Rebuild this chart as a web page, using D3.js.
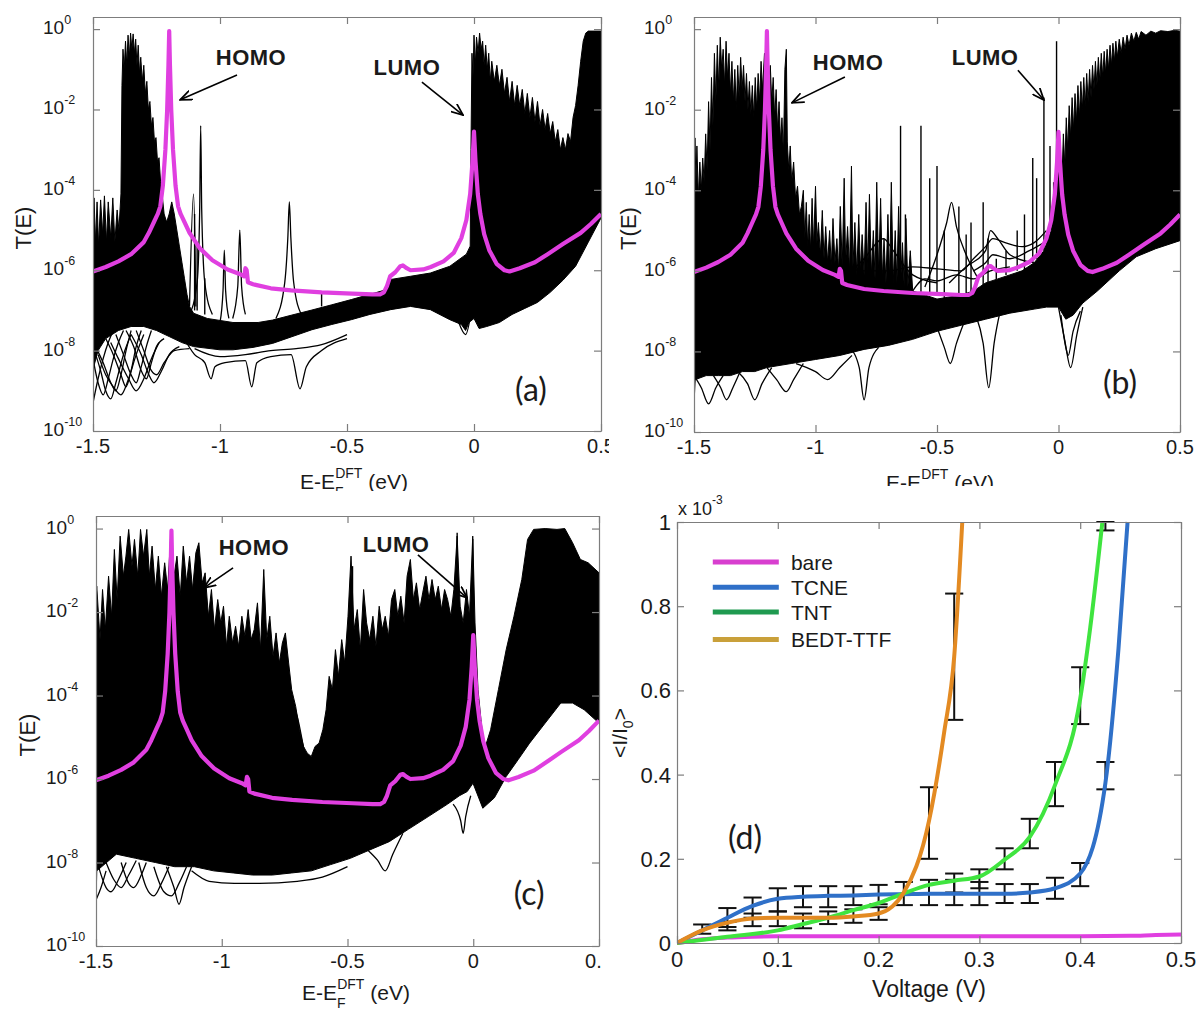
<!DOCTYPE html>
<html><head><meta charset="utf-8">
<script src="https://cdn.jsdelivr.net/npm/d3@7"></script>
<style>body{margin:0;background:#fff}svg{display:block}</style>
</head><body>
<svg id="fig" width="1201" height="1014"></svg>
<script>
// ---------------- DATA ----------------
const eTicks = [-1.5, -1, -0.5, 0, 0.5];
const tExponents = [0, -2, -4, -6, -8, -10];

// bare molecule transmission (magenta), [E, log10 T]
const bareCurve = [[-1.5,-6.03],[-1.45,-5.92],[-1.4,-5.78],[-1.35,-5.6],[-1.3,-5.3],[-1.28,-5.07],[-1.26,-4.8],[-1.245,-4.6],[-1.235,-4.41],[-1.225,-3.9],[-1.215,-3.0],[-1.208,-2.0],[-1.203,-0.9],[-1.2,-0.05],[-1.197,-0.9],[-1.192,-2.0],[-1.185,-3.0],[-1.175,-3.9],[-1.165,-4.41],[-1.155,-4.6],[-1.14,-4.8],[-1.12,-5.07],[-1.08,-5.45],[-1.03,-5.75],[-0.97,-5.98],[-0.92,-6.1],[-0.905,-6.15],[-0.9,-5.95],[-0.895,-6.0],[-0.89,-6.3],[-0.87,-6.35],[-0.8,-6.45],[-0.72,-6.5],[-0.6,-6.55],[-0.48,-6.58],[-0.4,-6.6],[-0.37,-6.6],[-0.355,-6.55],[-0.343,-6.4],[-0.33,-6.15],[-0.31,-6.05],[-0.29,-5.9],[-0.28,-5.88],[-0.265,-5.95],[-0.25,-6.0],[-0.2,-5.98],[-0.17,-5.92],[-0.12,-5.78],[-0.08,-5.57],[-0.05,-5.2],[-0.03,-4.75],[-0.015,-4.1],[-0.006,-3.3],[0.0,-2.55],[0.006,-3.3],[0.015,-4.1],[0.025,-4.6],[0.04,-5.1],[0.06,-5.5],[0.09,-5.85],[0.12,-6.0],[0.14,-6.03],[0.18,-5.95],[0.24,-5.8],[0.29,-5.6],[0.35,-5.35],[0.42,-5.07],[0.46,-4.85],[0.5,-4.6]];

// ---- panel (a)
const aTop = [[-1.5,-5.0],[-1.496,-4.2],[-1.49,-5.3],[-1.484,-4.3],[-1.478,-5.4],[-1.47,-4.25],[-1.462,-5.1],[-1.455,-4.15],[-1.447,-5.3],[-1.44,-4.3],[-1.43,-5.2],[-1.422,-4.2],[-1.414,-5.3],[-1.405,-4.5],[-1.398,-5.0],[-1.39,-4.1],[-1.386,-1.4],[-1.382,-0.5],[-1.377,-1.0],[-1.372,-0.3],[-1.367,-0.9],[-1.362,-0.15],[-1.357,-0.7],[-1.352,-0.1],[-1.347,-0.5],[-1.342,-0.12],[-1.337,-0.6],[-1.332,-0.25],[-1.327,-0.9],[-1.322,-0.4],[-1.317,-1.1],[-1.312,-0.7],[-1.306,-1.3],[-1.3,-0.9],[-1.294,-1.6],[-1.288,-1.3],[-1.282,-2.0],[-1.276,-1.8],[-1.27,-2.4],[-1.264,-2.2],[-1.258,-2.8],[-1.252,-2.7],[-1.246,-3.3],[-1.24,-3.2],[-1.234,-3.8],[-1.228,-4.1],[-1.22,-4.6],[-1.21,-4.8],[-1.2,-4.6],[-1.19,-4.3],[-1.18,-4.6],[-1.17,-5.0],[-1.16,-5.4],[-1.15,-5.8],[-1.14,-6.2],[-1.13,-6.6],[-1.12,-6.9],[-1.104,-7.07],[-1.05,-7.2],[-0.949,-7.3],[-0.85,-7.3],[-0.793,-7.24],[-0.72,-7.12],[-0.638,-6.99],[-0.56,-6.86],[-0.483,-6.73],[-0.41,-6.6],[-0.343,-6.48],[-0.335,-6.3],[-0.328,-6.23],[-0.25,-6.15],[-0.172,-6.07],[-0.095,-5.9],[-0.03,-5.6],[-0.015,-5.4],[-0.012,-3.0],[-0.008,-0.6],[-0.004,-1.2],[0.0,-0.15],[0.005,-0.9],[0.01,-0.2],[0.016,-0.6],[0.022,-0.1],[0.028,-0.5],[0.034,-0.3],[0.04,-0.9],[0.046,-0.4],[0.052,-1.0],[0.058,-0.6],[0.064,-1.3],[0.07,-0.8],[0.08,-1.3],[0.09,-0.9],[0.1,-1.4],[0.11,-1.0],[0.12,-1.6],[0.13,-1.2],[0.14,-1.8],[0.15,-1.3],[0.16,-1.9],[0.17,-1.4],[0.18,-1.9],[0.19,-1.5],[0.2,-2.1],[0.21,-1.6],[0.22,-2.2],[0.23,-1.7],[0.24,-2.3],[0.25,-1.8],[0.26,-2.4],[0.27,-2.0],[0.28,-2.5],[0.29,-2.1],[0.3,-2.6],[0.31,-2.3],[0.32,-2.8],[0.33,-2.5],[0.34,-3.0],[0.35,-2.7],[0.36,-3.0],[0.37,-2.6],[0.38,-2.8],[0.39,-2.2],[0.4,-1.9],[0.41,-1.4],[0.42,-0.8],[0.43,-0.3],[0.44,-0.1],[0.45,-0.05],[0.5,-0.05]];
const aBottom = [[-1.5,-9.3],[-1.497,-8.4],[-1.48,-8.0],[-1.45,-7.7],[-1.4,-7.5],[-1.35,-7.4],[-1.3,-7.4],[-1.25,-7.5],[-1.2,-7.65],[-1.15,-7.8],[-1.104,-7.9],[-1.0,-7.98],[-0.949,-7.98],[-0.87,-7.92],[-0.793,-7.82],[-0.72,-7.66],[-0.638,-7.48],[-0.56,-7.35],[-0.483,-7.23],[-0.41,-7.1],[-0.328,-6.98],[-0.25,-6.9],[-0.172,-6.98],[-0.095,-7.23],[-0.05,-7.35],[-0.033,-7.5],[-0.02,-7.3],[0.0,-7.2],[0.02,-7.45],[0.05,-7.4],[0.1,-7.3],[0.15,-7.1],[0.2,-6.95],[0.25,-6.8],[0.3,-6.55],[0.35,-6.25],[0.4,-5.9],[0.45,-5.3],[0.5,-4.7]];
const aSpikes = [[-1.1,-7.0,-4.6],[-1.09,-7.0,-5.4],[-1.06,-7.1,-6.2],[-0.6,-6.9,-6.55],[0.385,-5.8,-4.5],[0.395,-5.7,-4.2],[0.41,-5.5,-4.8]];
const aTraces = [
  [[-1.5,-9.3],[-1.48,-8.7],[-1.46,-8.2],[-1.44,-7.8],[-1.42,-7.5]],
  [[-1.5,-8.2],[-1.48,-8.8],[-1.46,-9.1],[-1.44,-8.7],[-1.42,-8.2],[-1.4,-7.8],[-1.38,-7.5]],
  [[-1.49,-7.9],[-1.46,-8.3],[-1.43,-8.8],[-1.41,-9.0],[-1.39,-8.6],[-1.37,-8.0],[-1.35,-7.5]],
  [[-1.45,-7.7],[-1.42,-8.1],[-1.39,-8.6],[-1.37,-8.9],[-1.35,-8.5],[-1.33,-7.9],[-1.31,-7.5]],
  [[-1.41,-7.6],[-1.38,-8.1],[-1.35,-8.6],[-1.33,-8.8],[-1.31,-8.4],[-1.29,-7.9],[-1.27,-7.5]],
  [[-1.37,-7.5],[-1.34,-7.9],[-1.31,-8.5],[-1.29,-8.7],[-1.27,-8.3],[-1.25,-7.9],[-1.22,-7.7]],
  [[-1.33,-7.5],[-1.3,-8.0],[-1.27,-8.5],[-1.25,-8.6],[-1.22,-8.3],[-1.18,-8.0],[-1.12,-7.95]],
  [[-1.5,-7.9],[-1.47,-8.5],[-1.45,-9.0],[-1.43,-9.2],[-1.41,-8.8],[-1.38,-8.1],[-1.35,-7.6]],
  [[-1.48,-8.1],[-1.45,-8.6],[-1.42,-8.9],[-1.39,-9.1],[-1.36,-8.7],[-1.33,-8.1],[-1.3,-7.6]],
  [[-1.43,-7.8],[-1.4,-8.2],[-1.36,-8.7],[-1.33,-9.0],[-1.3,-8.7],[-1.27,-8.2],[-1.24,-7.8]],
  [[-1.35,-7.6],[-1.31,-8.1],[-1.28,-8.6],[-1.26,-8.8],[-1.23,-8.5],[-1.2,-8.1],[-1.16,-7.9]],
  [[-1.12,-7.1],[-1.09,-6.3],[-1.08,-4.5],[-1.076,-2.4],[-1.072,-4.5],[-1.06,-6.3],[-1.03,-7.1]],
  [[-0.78,-7.2],[-0.745,-6.3],[-0.733,-5.2],[-0.727,-4.3],[-0.721,-5.2],[-0.71,-6.3],[-0.68,-7.1]],
  [[-0.95,-7.2],[-0.93,-6.4],[-0.922,-5.0],[-0.915,-6.4],[-0.9,-7.1]],
  [[-1.0,-7.3],[-0.988,-6.5],[-0.983,-5.5],[-0.978,-6.5],[-0.965,-7.2]],
  [[-1.12,-6.9],[-1.104,-4.1],[-1.095,-6.9]],
  [[-1.15,-7.6],[-1.1,-8.1],[-1.06,-8.3],[-1.035,-8.7],[-1.02,-8.4],[-0.98,-8.3],[-0.9,-8.25],[-0.875,-8.9],[-0.855,-8.3],[-0.8,-8.15],[-0.72,-8.1],[-0.685,-8.95],[-0.66,-8.4],[-0.6,-8.0],[-0.5,-7.7]],
  [[-1.1,-7.95],[-1.0,-8.15],[-0.9,-8.1],[-0.8,-8.0],[-0.7,-7.95],[-0.6,-7.85],[-0.5,-7.6]],
  [[-0.06,-7.3],[-0.033,-7.6],[-0.01,-7.0]]
];

// ---- panel (b)
const bTop = [[-1.5,-4.0],[-1.496,-2.7],[-1.492,-3.8],[-1.488,-2.9],[-1.482,-4.2],[-1.476,-3.3],[-1.47,-4.0],[-1.464,-3.2],[-1.458,-3.8],[-1.452,-2.6],[-1.446,-3.5],[-1.44,-1.8],[-1.434,-3.0],[-1.428,-1.2],[-1.422,-2.4],[-1.416,-0.6],[-1.41,-1.8],[-1.404,-0.4],[-1.398,-1.5],[-1.392,-0.2],[-1.386,-1.0],[-1.38,-0.5],[-1.374,-1.4],[-1.368,-0.3],[-1.362,-1.2],[-1.356,-0.6],[-1.35,-1.6],[-1.344,-0.8],[-1.338,-1.8],[-1.332,-1.0],[-1.326,-2.0],[-1.32,-0.9],[-1.314,-1.7],[-1.308,-0.7],[-1.302,-1.5],[-1.296,-0.9],[-1.29,-1.8],[-1.284,-1.1],[-1.278,-2.0],[-1.272,-1.3],[-1.266,-2.1],[-1.26,-1.4],[-1.254,-2.2],[-1.248,-1.2],[-1.242,-2.0],[-1.236,-1.1],[-1.23,-1.8],[-1.224,-0.8],[-1.218,-1.5],[-1.21,-0.6],[-1.2,-0.8],[-1.192,-1.4],[-1.186,-0.9],[-1.18,-1.8],[-1.174,-1.2],[-1.168,-2.2],[-1.162,-1.5],[-1.156,-2.5],[-1.15,-1.8],[-1.144,-2.8],[-1.138,-2.2],[-1.132,-3.1],[-1.126,-1.0],[-1.12,-0.5],[-1.116,-2.8],[-1.11,-3.5],[-1.104,-2.9],[-1.098,-3.8],[-1.09,-3.3],[-1.082,-4.2],[-1.074,-3.9],[-1.066,-4.6],[-1.058,-4.4],[-1.05,-4.0],[-1.044,-5.2],[-1.038,-4.3],[-1.032,-5.4],[-1.026,-4.6],[-1.02,-5.5],[-1.014,-4.2],[-1.008,-5.4],[-1.0,-3.9],[-0.994,-5.3],[-0.988,-4.8],[-0.98,-5.6],[-0.972,-4.5],[-0.965,-5.7],[-0.958,-4.9],[-0.95,-5.8],[-0.942,-5.0],[-0.935,-5.9],[-0.928,-4.7],[-0.92,-5.8],[-0.912,-5.2],[-0.905,-6.0],[-0.898,-4.4],[-0.89,-5.9],[-0.882,-3.7],[-0.876,-5.8],[-0.868,-4.9],[-0.86,-6.0],[-0.852,-3.4],[-0.846,-5.9],[-0.838,-4.8],[-0.83,-6.1],[-0.822,-4.6],[-0.815,-6.0],[-0.808,-5.1],[-0.8,-6.1],[-0.792,-4.3],[-0.785,-6.0],[-0.778,-4.1],[-0.77,-6.1],[-0.762,-5.0],[-0.755,-6.2],[-0.748,-3.8],[-0.74,-6.1],[-0.732,-4.2],[-0.725,-6.2],[-0.718,-5.2],[-0.71,-6.3],[-0.702,-4.6],[-0.695,-6.2],[-0.688,-3.8],[-0.68,-6.3],[-0.672,-5.0],[-0.665,-6.3],[-0.658,-4.4],[-0.65,-6.3],[-0.642,-5.3],[-0.635,-6.4],[-0.628,-4.7],[-0.62,-6.4],[-0.61,-5.5],[-0.6,-6.5],[-0.5,-6.7],[-0.4,-6.6],[-0.35,-6.5],[-0.3,-6.3],[-0.25,-6.2],[-0.2,-6.1],[-0.15,-6.0],[-0.1,-5.8],[-0.06,-5.5],[-0.03,-5.0],[-0.01,-4.2],[0.0,-2.9],[0.008,-4.4],[0.015,-3.6],[0.02,-2.6],[0.026,-3.4],[0.032,-2.2],[0.038,-3.0],[0.044,-1.9],[0.05,-2.7],[0.056,-1.7],[0.062,-2.5],[0.068,-1.6],[0.074,-2.3],[0.08,-1.4],[0.086,-2.2],[0.092,-1.3],[0.098,-2.0],[0.104,-1.2],[0.11,-1.9],[0.116,-1.1],[0.122,-1.8],[0.128,-1.0],[0.134,-1.7],[0.14,-0.9],[0.146,-1.5],[0.152,-0.8],[0.158,-1.4],[0.164,-0.7],[0.17,-1.3],[0.176,-0.6],[0.182,-1.2],[0.188,-0.55],[0.194,-1.1],[0.2,-0.5],[0.206,-1.0],[0.212,-0.4],[0.218,-0.9],[0.224,-0.35],[0.23,-0.8],[0.236,-0.3],[0.242,-0.7],[0.25,-0.25],[0.258,-0.6],[0.266,-0.2],[0.274,-0.5],[0.282,-0.15],[0.29,-0.4],[0.3,-0.1],[0.31,-0.3],[0.32,-0.08],[0.33,-0.25],[0.34,-0.06],[0.36,-0.15],[0.38,-0.05],[0.4,-0.1],[0.42,-0.04],[0.45,-0.06],[0.48,-0.03],[0.5,-0.05]];
const bBottom = [[-1.5,-9.3],[-1.495,-8.7],[-1.45,-8.6],[-1.4,-8.6],[-1.35,-8.6],[-1.3,-8.5],[-1.25,-8.5],[-1.2,-8.4],[-1.15,-8.35],[-1.1,-8.3],[-1.0,-8.2],[-0.9,-8.1],[-0.8,-7.95],[-0.7,-7.85],[-0.6,-7.7],[-0.5,-7.5],[-0.4,-7.35],[-0.3,-7.2],[-0.2,-7.05],[-0.1,-6.95],[-0.05,-6.9],[0.0,-6.9],[0.03,-7.2],[0.06,-7.1],[0.1,-6.8],[0.16,-6.5],[0.25,-6.0],[0.32,-5.65],[0.4,-5.45],[0.5,-5.25]];
const bSpikes = [[-0.65,-6.5,-2.4],[-0.63,-6.5,-4.6],[-0.566,-6.6,-2.4],[-0.53,-6.6,-3.7],[-0.5,-6.6,-3.4],[-0.47,-6.7,-5.0],[-0.41,-6.6,-4.4],[-0.38,-6.6,-5.1],[-0.36,-6.5,-4.8],[-0.31,-6.4,-4.3],[-0.29,-6.4,-5.2],[-0.256,-6.2,-5.7],[-0.216,-6.1,-5.5],[-0.17,-6.0,-5.0],[-0.14,-6.0,-4.6],[-0.106,-5.8,-3.2],[-0.09,-5.7,-3.7],[-0.06,-5.5,-1.7],[-0.035,-5.0,-2.9],[-0.02,-4.8,-3.8],[-0.008,-4.5,-0.3]];
const bTraces = [
  [[-0.86,-7.9],[-0.82,-8.4],[-0.8,-9.2],[-0.78,-8.4],[-0.74,-7.9]],
  [[-0.5,-7.4],[-0.47,-7.9],[-0.445,-8.3],[-0.42,-7.8],[-0.39,-7.3]],
  [[-0.34,-7.1],[-0.31,-7.8],[-0.287,-8.9],[-0.265,-7.8],[-0.24,-7.0]],
  [[0.0,-6.9],[0.025,-7.7],[0.05,-8.4],[0.075,-7.6],[0.1,-6.9]],
  [[0.01,-7.1],[0.03,-7.9],[0.04,-8.1],[0.06,-7.5],[0.09,-7.0]],
  [[-1.5,-8.6],[-1.47,-8.9],[-1.44,-9.3],[-1.41,-8.9],[-1.38,-8.6]],
  [[-1.42,-8.6],[-1.39,-8.9],[-1.366,-9.2],[-1.34,-8.9],[-1.31,-8.5]],
  [[-1.32,-8.5],[-1.28,-8.8],[-1.25,-9.2],[-1.22,-8.8],[-1.18,-8.4]],
  [[-1.2,-8.4],[-1.16,-8.7],[-1.12,-9.0],[-1.09,-8.7],[-1.05,-8.3]],
  [[-1.08,-8.3],[-1.0,-8.5],[-0.95,-8.7],[-0.9,-8.4],[-0.85,-8.1]],
  [[-1.0,-5.8],[-0.9,-5.9],[-0.8,-6.0],[-0.7,-6.0],[-0.6,-5.9],[-0.5,-5.95],[-0.4,-6.0],[-0.35,-5.7],[-0.3,-5.4],[-0.27,-5.2],[-0.22,-5.3],[-0.15,-5.4],[-0.1,-5.3],[-0.05,-5.0]],
  [[-0.55,-6.4],[-0.5,-5.6],[-0.46,-4.8],[-0.44,-4.3],[-0.42,-4.9],[-0.38,-5.6],[-0.33,-6.2]],
  [[-0.9,-6.3],[-0.8,-5.7],[-0.72,-5.2],[-0.68,-5.5],[-0.6,-6.1],[-0.5,-6.3]],
  [[-0.45,-6.3],[-0.38,-5.9],[-0.3,-5.5],[-0.28,-5.0],[-0.25,-5.2],[-0.2,-5.6],[-0.1,-5.8]],
  [[-0.35,-6.0],[-0.3,-5.8],[-0.27,-5.6],[-0.2,-5.7],[-0.12,-5.5],[-0.06,-5.3]],
  [[-0.6,-6.5],[-0.55,-6.2],[-0.5,-6.25],[-0.42,-6.1],[-0.35,-6.2],[-0.28,-6.0],[-0.2,-5.9]]
];

// ---- panel (c)
const cTop = [[-1.5,-1.6],[-1.497,-1.38],[-1.484,-2.66],[-1.474,-1.46],[-1.463,-2.42],[-1.45,-1.14],[-1.438,-2.1],[-1.427,-0.5],[-1.416,-1.7],[-1.404,-0.18],[-1.391,-1.14],[-1.381,-0.66],[-1.37,-0.02],[-1.357,-0.9],[-1.347,-0.26],[-1.334,-1.14],[-1.323,-0.02],[-1.311,-0.66],[-1.298,-0.02],[-1.288,-1.14],[-1.277,-0.42],[-1.264,-1.46],[-1.252,-0.66],[-1.24,-1.62],[-1.227,-0.82],[-1.215,-1.46],[-1.202,-0.05],[-1.19,-1.14],[-1.178,-0.66],[-1.165,-1.62],[-1.153,-0.42],[-1.14,-1.3],[-1.128,-0.66],[-1.116,-1.46],[-1.103,-0.58],[-1.091,-0.34],[-1.078,-1.3],[-1.066,-1.06],[-1.053,-2.1],[-1.041,-1.46],[-1.029,-2.42],[-1.016,-1.7],[-1.004,-2.26],[-0.993,-1.86],[-0.981,-2.82],[-0.97,-2.1],[-0.957,-2.74],[-0.945,-2.34],[-0.933,-2.82],[-0.92,-2.1],[-0.908,-2.58],[-0.895,-1.94],[-0.883,-2.66],[-0.871,-2.42],[-0.858,-1.78],[-0.846,-2.9],[-0.833,-0.98],[-0.821,-2.66],[-0.809,-2.1],[-0.796,-3.06],[-0.784,-2.5],[-0.771,-3.22],[-0.759,-2.74],[-0.747,-2.5],[-0.734,-3.22],[-0.722,-3.86],[-0.706,-4.26],[-0.691,-4.82],[-0.675,-5.22],[-0.66,-5.38],[-0.644,-5.46],[-0.629,-5.22],[-0.613,-5.14],[-0.598,-4.82],[-0.585,-4.34],[-0.573,-3.54],[-0.56,-3.86],[-0.548,-2.9],[-0.536,-3.54],[-0.523,-2.66],[-0.511,-3.22],[-0.498,-2.1],[-0.486,-0.66],[-0.474,-2.42],[-0.461,-1.94],[-0.449,-2.9],[-0.436,-1.46],[-0.424,-2.26],[-0.412,-2.66],[-0.399,-2.1],[-0.387,-2.82],[-0.374,-1.86],[-0.362,-2.42],[-0.35,-2.1],[-0.337,-2.58],[-0.325,-1.7],[-0.312,-1.46],[-0.3,-2.1],[-0.288,-1.62],[-0.275,-2.26],[-0.263,-1.14],[-0.25,-0.74],[-0.238,-1.7],[-0.226,-1.3],[-0.213,-1.94],[-0.201,-1.54],[-0.188,-1.14],[-0.176,-1.7],[-0.164,-1.22],[-0.151,-1.7],[-0.139,-1.38],[-0.126,-1.94],[-0.114,-1.46],[-0.102,-1.7],[-0.089,-2.1],[-0.077,-1.46],[-0.064,-0.18],[-0.052,-1.86],[-0.04,-2.26],[-0.027,-1.46],[-0.015,-2.1],[-0.002,-0.18],[0.007,-2.26],[0.019,-3.86],[0.032,-4.66],[0.044,-5.3],[0.069,-4.82],[0.1,-3.86],[0.131,-2.9],[0.162,-2.1],[0.193,-1.22],[0.216,-0.26],[0.24,-0.02],[0.286,0],[0.333,-0.02],[0.364,0],[0.395,-0.34],[0.426,-0.74],[0.457,-0.82],[0.5,-1.06]];
const cBottom = [[-1.5,-9.0],[-1.497,-8.2],[-1.419,-7.8],[-1.342,-7.9],[-1.264,-8.0],[-1.187,-8.1],[-1.109,-8.1],[-1.032,-8.2],[-0.954,-8.25],[-0.877,-8.3],[-0.799,-8.3],[-0.722,-8.25],[-0.644,-8.2],[-0.567,-8.05],[-0.489,-7.9],[-0.412,-7.7],[-0.334,-7.5],[-0.257,-7.2],[-0.179,-6.9],[-0.102,-6.6],[-0.055,-6.4],[-0.024,-6.3],[-0.001,-6.1],[0.038,-6.7],[0.084,-6.45],[0.131,-5.94],[0.178,-5.54],[0.224,-5.14],[0.286,-4.66],[0.348,-4.18],[0.395,-4.18],[0.441,-4.34],[0.5,-4.66]];
const cSpikes = [[-0.48,-3.0,-0.9],[-0.064,-2.5,-0.1],[-0.002,-3.0,-0.25]];
const cTraces = [
  [[-1.5,-8.9],[-1.48,-8.6],[-1.46,-8.2]],
  [[-1.49,-8.1],[-1.46,-8.6],[-1.44,-8.7],[-1.41,-8.4],[-1.38,-8.0]],
  [[-1.4,-8.0],[-1.37,-8.5],[-1.35,-8.6],[-1.32,-8.3],[-1.3,-8.0]],
  [[-1.33,-8.0],[-1.3,-8.6],[-1.27,-8.8],[-1.24,-8.5],[-1.21,-8.1]],
  [[-1.27,-8.1],[-1.23,-8.7],[-1.2,-8.8],[-1.17,-8.5],[-1.14,-8.1]],
  [[-1.22,-8.1],[-1.19,-8.6],[-1.17,-9.0],[-1.15,-8.6],[-1.12,-8.1]],
  [[-1.46,-8.0],[-1.43,-8.4],[-1.4,-8.6],[-1.37,-8.3],[-1.34,-7.95]],
  [[-1.12,-8.2],[-1.05,-8.45],[-0.95,-8.5],[-0.85,-8.5],[-0.7,-8.45],[-0.6,-8.35],[-0.5,-8.1]],
  [[-0.42,-7.7],[-0.38,-7.95],[-0.35,-8.2],[-0.32,-7.8],[-0.28,-7.3]],
  [[-0.08,-6.6],[-0.05,-7.0],[-0.04,-7.3],[-0.03,-6.9],[-0.01,-6.4]],
  [[-0.75,-3.5],[-0.7,-4.5],[-0.65,-5.7],[-0.6,-5.0],[-0.55,-3.8]],
  [[-0.74,-4.0],[-0.68,-5.2],[-0.63,-6.0],[-0.58,-5.2],[-0.54,-4.2]]
];

// annotations [HOMO text], [arrow from,to], [LUMO text], [arrow from,to], panel letter (data coordinates)
const aNotes = [[-0.878,-0.89],[[-0.933,-1.14],[-1.157,-1.76]],[-0.264,-1.14],[[-0.205,-1.32],[-0.043,-2.14]],[0.224,-8.98]];
const bNotes = [[-0.866,-1.02],[[-0.879,-1.19],[-1.097,-1.83]],[-0.302,-0.89],[[-0.167,-1.02],[-0.06,-1.76]],[0.253,-8.78]];
const cNotes = [[-0.872,-0.63],[[-0.955,-0.94],[-1.071,-1.42]],[-0.307,-0.56],[[-0.22,-0.63],[-0.025,-1.66]],[0.222,-8.76]];

// ---- panel (d)
const vTicks = [0, 0.1, 0.2, 0.3, 0.4, 0.5];
const iTicks = [0, 0.2, 0.4, 0.6, 0.8, 1];
const seriesNames = ["bare", "TCNE", "TNT", "BEDT-TTF"];
const lineColors = ["#e03fe0", "#2f70c8", "#3fe43f", "#e38a22"];
const legendColors = ["#d83fcf", "#2f70c8", "#1f9a50", "#c9a03a"];
const bareV = [0, 0.025, 0.05, 0.075, 0.1, 0.15, 0.2, 0.25, 0.3, 0.35, 0.4, 0.45, 0.475, 0.5];
const bareI = [0, 0.009, 0.013, 0.015, 0.016, 0.016, 0.016, 0.016, 0.016, 0.016, 0.016, 0.017, 0.019, 0.02];
const tcneV = [0, 0.025, 0.05, 0.075, 0.1, 0.125, 0.15, 0.175, 0.2, 0.225, 0.25, 0.275, 0.3, 0.325, 0.35, 0.375, 0.4, 0.425, 0.438, 0.447];
const tcneI = [0, 0.03, 0.06, 0.088, 0.105, 0.11, 0.112, 0.113, 0.115, 0.116, 0.117, 0.117, 0.117, 0.117, 0.12, 0.13, 0.165, 0.38, 0.7, 1.0];
const tntV = [0, 0.05, 0.1, 0.125, 0.15, 0.175, 0.2, 0.225, 0.25, 0.275, 0.3, 0.325, 0.35, 0.375, 0.4, 0.41, 0.422];
const tntI = [0, 0.015, 0.03, 0.045, 0.06, 0.078, 0.095, 0.118, 0.138, 0.148, 0.158, 0.198, 0.252, 0.375, 0.58, 0.75, 1.0];
const bedtV = [0, 0.025, 0.05, 0.075, 0.1, 0.125, 0.15, 0.175, 0.2, 0.225, 0.25, 0.265, 0.275, 0.283];
const bedtI = [0, 0.03, 0.048, 0.058, 0.06, 0.06, 0.06, 0.063, 0.07, 0.12, 0.29, 0.5, 0.68, 1.0];
const errorBars = [[0.025,0.022,0.044],[0.05,0.038,0.083],[0.05,0.03,0.05],[0.075,0.06,0.108],[0.075,0.04,0.07],[0.1,0.075,0.13],[0.1,0.04,0.075],[0.125,0.085,0.135],[0.125,0.035,0.07],[0.15,0.085,0.135],[0.15,0.045,0.075],[0.175,0.09,0.135],[0.175,0.048,0.08],[0.2,0.092,0.138],[0.2,0.055,0.085],[0.225,0.09,0.145],[0.25,0.09,0.15],[0.25,0.2,0.37],[0.275,0.09,0.15],[0.275,0.12,0.165],[0.275,0.53,0.83],[0.3,0.09,0.145],[0.3,0.13,0.175],[0.325,0.095,0.14],[0.325,0.175,0.225],[0.35,0.095,0.14],[0.35,0.225,0.295],[0.375,0.105,0.155],[0.375,0.325,0.43],[0.4,0.135,0.19],[0.4,0.52,0.655],[0.425,0.365,0.43],[0.425,0.98,1.0]];
const legendRows = [0.905, 0.845, 0.786, 0.721];
const dLetterPos = [0.0675, 0.25];

// ---------------- DRAWING ----------------
const svg = d3.select("#fig");
const defs = svg.append("defs");
const FONT = "'Liberation Sans', Arial, Helvetica, sans-serif";
const TXT = "#1a1a1a", GRAY = "#7d7d7d", MAG = "#e03fe0";

function addClip(id, x, y, w, h) {
  defs.append("clipPath").attr("id", id).append("rect").attr("x", x).attr("y", y).attr("width", w).attr("height", h);
}
addClip("clipA", 0, 0, 609, 491);
addClip("clipB", 609, 0, 592, 486);
addClip("clipC", 0, 491, 601, 523);
addClip("clipD", 601, 491, 600, 523);

defs.append("marker").attr("id", "arrowHead").attr("viewBox", "0 0 12 10")
  .attr("refX", 11).attr("refY", 5).attr("markerWidth", 13).attr("markerHeight", 11)
  .attr("markerUnits", "userSpaceOnUse").attr("orient", "auto")
  .append("path").attr("d", "M0,0.5 L11,5 L0,9.5").attr("fill", "none").attr("stroke", "#000").attr("stroke-width", 1.6);

function frame(g, x, y, box, xt, yt) {
  const mk = (axis, tr) => {
    const s = g.append("g").attr("transform", tr).call(axis);
    s.selectAll("text").remove();
    s.selectAll("path,line").attr("stroke", GRAY).attr("stroke-width", 1.2);
  };
  mk(d3.axisBottom(x).tickValues(xt).tickSizeInner(-7).tickSizeOuter(0), `translate(0,${box.y1})`);
  mk(d3.axisTop(x).tickValues(xt).tickSizeInner(-7).tickSizeOuter(0), `translate(0,${box.y0})`);
  mk(d3.axisLeft(y).tickValues(yt).tickSizeInner(-7).tickSizeOuter(0), `translate(${box.x0},0)`);
  mk(d3.axisRight(y).tickValues(yt).tickSizeInner(-7).tickSizeOuter(0), `translate(${box.x1},0)`);
}

function eLabel(g, cx, base) {
  const t = g.append("text").attr("x", cx).attr("y", base).attr("text-anchor", "middle")
    .attr("font-family", FONT).attr("font-size", 21).attr("fill", TXT);
  t.append("tspan").text("E-E");
  t.append("tspan").attr("font-size", 14).attr("dy", 8).text("F");
  t.append("tspan").attr("font-size", 14).attr("dx", -8.5).attr("dy", -19).text("DFT");
  t.append("tspan").attr("dy", 11).text(" (eV)");
}

function drawTransmission(key, box, top, bottom, spikes, traces, notes, letter) {
  const g = svg.append("g").attr("clip-path", `url(#${box.clip})`);
  const x = d3.scaleLinear().domain([-1.5, 0.5]).range([box.x0, box.x1]);
  const y = d3.scaleLog().domain([1e-10, 2]).range([box.y1, box.y0]);
  const P = p => [x(p[0]), y(Math.pow(10, p[1]))];
  addClip("plot" + key, box.x0, box.y0, box.x1 - box.x0, box.y1 - box.y0);
  const plot = g.append("g").attr("clip-path", `url(#plot${key})`);

  plot.append("path").attr("d", d3.line()(top.concat(bottom.slice().reverse()).map(P)) + "Z")
    .attr("fill", "#000").attr("stroke", "#000").attr("stroke-width", 1).attr("stroke-linejoin", "bevel");
  traces.forEach(t => plot.append("path").attr("d", d3.line().curve(d3.curveMonotoneX)(t.map(P)))
    .attr("fill", "none").attr("stroke", "#000").attr("stroke-width", 1.3));
  spikes.forEach(s => plot.append("line")
    .attr("x1", x(s[0])).attr("x2", x(s[0]))
    .attr("y1", y(Math.pow(10, s[1]))).attr("y2", y(Math.pow(10, s[2])))
    .attr("stroke", "#000").attr("stroke-width", 1.4));
  plot.append("path").attr("d", d3.line()(bareCurve.map(P)))
    .attr("fill", "none").attr("stroke", MAG).attr("stroke-width", 4.2).attr("stroke-linejoin", "round");

  frame(g, x, y, box, eTicks, tExponents.map(e => Math.pow(10, e)));

  eTicks.forEach(v => g.append("text").attr("x", x(v)).attr("y", box.y1 + 22).attr("text-anchor", "middle")
    .attr("font-family", FONT).attr("font-size", 20).attr("fill", TXT).text(String(v)));
  tExponents.forEach(e => {
    const t = g.append("text").attr("x", box.x0 - 50).attr("y", y(Math.pow(10, e)) + 5)
      .attr("font-family", FONT).attr("font-size", 19).attr("fill", TXT);
    t.append("tspan").text("10");
    t.append("tspan").attr("dy", -10).attr("font-size", 12.5).text(String(e));
  });
  g.append("text").attr("transform", `translate(${box.ylabX},${(box.y0 + box.y1) / 2 + 4}) rotate(-90)`)
    .attr("text-anchor", "middle").attr("font-family", FONT).attr("font-size", 22).attr("fill", TXT).text("T(E)");
  eLabel(g, box.xlabCx, box.xlabBase);

  const bold = (p, s) => g.append("text").attr("x", P(p)[0]).attr("y", P(p)[1]).attr("text-anchor", "middle")
    .attr("font-family", FONT).attr("font-weight", "bold").attr("font-size", 22).attr("letter-spacing", 0.5)
    .attr("fill", "#1a1a1a").text(s);
  const arrow = seg => g.append("line").attr("x1", P(seg[0])[0]).attr("y1", P(seg[0])[1])
    .attr("x2", P(seg[1])[0]).attr("y2", P(seg[1])[1]).attr("stroke", "#000").attr("stroke-width", 1.6)
    .attr("marker-end", "url(#arrowHead)");
  bold(notes[0], "HOMO"); arrow(notes[1]);
  bold(notes[2], "LUMO"); arrow(notes[3]);
  g.append("text").attr("x", P(notes[4])[0]).attr("y", P(notes[4])[1] + 11).attr("text-anchor", "middle")
    .attr("font-family", "Lato, 'Open Sans', sans-serif").attr("font-size", 32).attr("fill", TXT).text(letter);
}

drawTransmission("A", {x0: 93, x1: 601, y0: 17, y1: 431, clip: "clipA", ylabX: 31, xlabCx: 354, xlabBase: 489}, aTop, aBottom, aSpikes, aTraces, aNotes, "(a)");
drawTransmission("B", {x0: 694, x1: 1180, y0: 17, y1: 432, clip: "clipB", ylabX: 636, xlabCx: 940, xlabBase: 490}, bTop, bBottom, bSpikes, bTraces, bNotes, "(b)");
drawTransmission("C", {x0: 96, x1: 599, y0: 516, y1: 946, clip: "clipC", ylabX: 35, xlabCx: 356, xlabBase: 1000}, cTop, cBottom, cSpikes, cTraces, cNotes, "(c)");

(function () {
  const box = {x0: 677, x1: 1181, y0: 522, y1: 943};
  const g = svg.append("g").attr("clip-path", "url(#clipD)");
  const x = d3.scaleLinear().domain([0, 0.5]).range([box.x0, box.x1]);
  const y = d3.scaleLinear().domain([0, 1]).range([box.y1, box.y0]);
  addClip("plotD", box.x0, box.y0 - 2, box.x1 - box.x0, box.y1 - box.y0 + 4);
  const plot = g.append("g").attr("clip-path", "url(#plotD)");

  const capW = 0.009;
  errorBars.forEach(b => {
    plot.append("line").attr("x1", x(b[0])).attr("x2", x(b[0])).attr("y1", y(b[1])).attr("y2", y(b[2]))
      .attr("stroke", "#111").attr("stroke-width", 2);
    [b[1], b[2]].forEach(v => plot.append("line").attr("x1", x(b[0] - capW)).attr("x2", x(b[0] + capW))
      .attr("y1", y(v)).attr("y2", y(v)).attr("stroke", "#111").attr("stroke-width", 2));
  });
  const series = [[bareV, bareI], [tcneV, tcneI], [tntV, tntI], [bedtV, bedtI]];
  const line = d3.line().curve(d3.curveMonotoneX);
  series.forEach((s, i) => plot.append("path")
    .attr("d", line(s[0].map((v, k) => [x(v), y(s[1][k])])))
    .attr("fill", "none").attr("stroke", lineColors[i]).attr("stroke-width", 4).attr("stroke-linejoin", "round"));

  frame(g, x, y, box, vTicks, iTicks);
  vTicks.forEach(v => g.append("text").attr("x", x(v)).attr("y", box.y1 + 24).attr("text-anchor", "middle")
    .attr("font-family", FONT).attr("font-size", 22).attr("fill", TXT).text(String(v)));
  iTicks.forEach(v => g.append("text").attr("x", box.x0 - 6).attr("y", y(v) + 8).attr("text-anchor", "end")
    .attr("font-family", FONT).attr("font-size", 22).attr("fill", TXT).text(String(v)));
  const ex = g.append("text").attr("x", box.x0 + 1).attr("y", box.y0 - 7)
    .attr("font-family", FONT).attr("font-size", 18).attr("fill", TXT);
  ex.append("tspan").text("x 10");
  ex.append("tspan").attr("dy", -11).attr("font-size", 12).text("-3");

  g.append("text").attr("x", (box.x0 + box.x1) / 2).attr("y", 997).attr("text-anchor", "middle")
    .attr("font-family", FONT).attr("font-size", 23).attr("fill", TXT).text("Voltage (V)");
  const yl = g.append("text").attr("transform", `translate(627,733) rotate(-90)`).attr("text-anchor", "middle")
    .attr("font-family", FONT).attr("font-size", 21).attr("fill", TXT);
  yl.append("tspan").text("<I/I");
  yl.append("tspan").attr("font-size", 14).attr("dy", 6).text("0");
  yl.append("tspan").attr("dy", -6).text(">");

  seriesNames.forEach((n, i) => {
    g.append("line").attr("x1", x(0.0355)).attr("x2", x(0.101)).attr("y1", y(legendRows[i])).attr("y2", y(legendRows[i]))
      .attr("stroke", legendColors[i]).attr("stroke-width", 5);
    g.append("text").attr("x", x(0.113)).attr("y", y(legendRows[i]) + 8)
      .attr("font-family", FONT).attr("font-size", 21).attr("fill", TXT).text(n);
  });
  g.append("text").attr("x", x(dLetterPos[0])).attr("y", y(dLetterPos[1]) + 11).attr("text-anchor", "middle")
    .attr("font-family", "Lato, 'Open Sans', sans-serif").attr("font-size", 32).attr("fill", TXT).text("(d)");
})();
</script>
</body></html>
